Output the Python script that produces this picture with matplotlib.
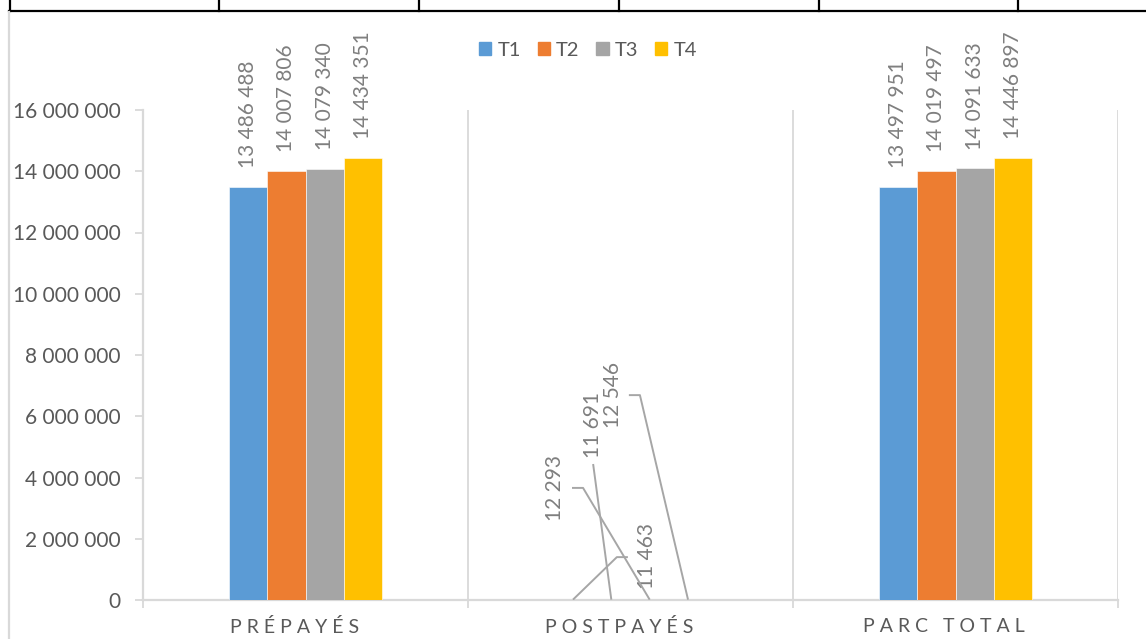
import matplotlib
matplotlib.use("Agg")
import matplotlib.pyplot as plt
from matplotlib.lines import Line2D
from matplotlib.patches import Patch
import numpy as np

plt.rcParams['font.family'] = ['Lato', 'DejaVu Sans']

# data
categories = ["PRÉPAYÉS", "POSTPAYÉS", "PARC TOTAL"]
cat_labels = ["P R É P A Y É S", "P O S T P A Y É S", "P A R C   T O T A L"]
series = ["T1", "T2", "T3", "T4"]
t1 = [13486488, 11463, 13497951]
t2 = [14007806, 11691, 14019497]
t3 = [14079340, 12293, 14091633]
t4 = [14434351, 12546, 14446897]
colors = ["#5B9BD5", "#ED7D31", "#A5A5A5", "#FFC000"]

# label placement for the tiny postpaid values (x offset from category, y in data units)
post_label_pos = [(0.051, 1.44e6), (-0.115, 5.71e6), (-0.232, 3.66e6), (-0.054, 6.69e6)]
post_elbow = [(-0.042, 1.40e6), (-0.115, 4.44e6), (-0.146, 3.66e6), (0.029, 6.69e6)]
post_stub = [(-0.008, 1.40e6), None, (-0.180, 3.66e6), (-0.005, 6.69e6)]

W, H = 1146, 639
fig = plt.figure(figsize=(W / 100, H / 100), dpi=100)
ax = fig.add_axes([143 / W, 39 / H, (1118 - 143) / W, (600 - 110) / H])

txt = "#595959"
lbl = "#7F7F7F"
lead = "#A6A6A6"
axc = "#D9D9D9"

x = np.arange(len(categories))
bw = 0.118
vals = [t1, t2, t3, t4]
for i, (s, v, c) in enumerate(zip(series, vals, colors)):
    xs = x + (i - 1.5) * bw
    ax.bar(xs, v, bw, color=c, edgecolor="white", linewidth=0.4, label=s, zorder=3)
    for j, (xx, vv) in enumerate(zip(xs, v)):
        s_val = f"{vv:,}".replace(",", " ")
        if j == 1:
            lx, ly = post_label_pos[i]
            ex, ey = post_elbow[i]
            pts_x = [xx, x[j] + ex]
            pts_y = [vv, ey]
            if post_stub[i] is not None:
                pts_x.append(x[j] + post_stub[i][0])
                pts_y.append(post_stub[i][1])
            ax.plot(pts_x, pts_y, color=lead, lw=1.4, zorder=4, solid_capstyle="butt")
            ax.text(x[j] + lx, ly, s_val, rotation=90, ha="center", va="center",
                    color=lbl, fontsize=15)
        else:
            ax.annotate(s_val, (xx, vv), xytext=(0, 13.5), textcoords="offset points",
                        rotation=90, ha="center", va="bottom", color=lbl, fontsize=15)

ax.set_xlim(-0.5, 2.5)
ax.set_ylim(0, 16e6)
ax.set_yticks(np.arange(0, 16e6 + 1, 2e6))
ax.set_yticklabels([f"{int(t):,}".replace(",", " ") for t in ax.get_yticks()])
ax.set_xticks(x - 0.035)
ax.set_xticklabels(cat_labels)
ax.set_xticks([-0.5, 0.5, 1.5, 2.5], minor=True)
ax.tick_params(axis="x", which="major", length=0, pad=13, labelsize=14, labelcolor=txt)
ax.tick_params(axis="x", which="minor", length=6, width=1.3, color=axc)
ax.tick_params(axis="y", length=6, width=1.3, color=axc, pad=10, labelsize=15, labelcolor=txt)
ax.grid(axis="x", which="minor", color=axc, lw=1.3, zorder=0)
for sp in ["top", "right"]:
    ax.spines[sp].set_visible(False)
for sp in ["left", "bottom"]:
    ax.spines[sp].set_color(axc)
    ax.spines[sp].set_linewidth(1.6)

handles = [Patch(color=c) for c in colors]
fig.legend(handles, series, loc="center", bbox_to_anchor=(588 / W, 1 - 50 / H), ncol=4,
           frameon=False, fontsize=14.5, handlelength=0.6, handleheight=0.6,
           handletextpad=0.3, columnspacing=0.85, labelcolor=txt)

# sheet cell borders and chart frame
def fl(x0, y0, x1, y1, **kw):
    fig.add_artist(Line2D([x0 / W, x1 / W], [1 - y0 / H, 1 - y1 / H],
                          transform=fig.transFigure, **kw))

fl(9, 11, W, 11, color="black", lw=1.6)
for xv in [10, 219, 419, 619, 819, 1018]:
    fl(xv, 0, xv, 11, color="black", lw=1.6)
fl(9, 12, 9, H, color=axc, lw=1.6)

fig.savefig("out.png", dpi=100)
